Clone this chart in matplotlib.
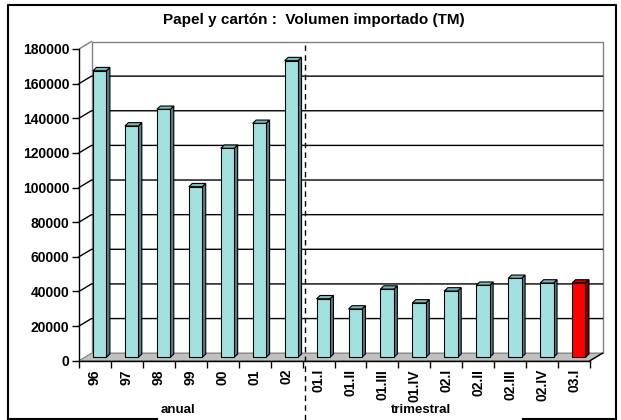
import numpy as np
import matplotlib.pyplot as plt
from matplotlib.patches import Polygon
from matplotlib.lines import Line2D
import matplotlib.transforms as mtransforms

plt.rcParams['font.family'] = ['Liberation Sans', 'DejaVu Sans']
plt.rcParams['font.weight'] = 'bold'

title = 'Papel y cartón :  Volumen importado (TM)'
labels = ['96', '97', '98', '99', '00', '01', '02',
          '01.I', '01.II', '01.III', '01.IV', '02.I', '02.II', '02.III', '02.IV', '03.I']
values = [165500, 133600, 143200, 98500, 120700, 135100, 171300,
          33800, 27900, 39400, 31400, 38300, 41600, 45600, 42900, 42900]
yticks = [0, 20000, 40000, 60000, 80000, 100000, 120000, 140000, 160000, 180000]
group_names = ['anual', 'trimestral']

W, H = 621, 420
fig = plt.figure(figsize=(W / 100, H / 100), dpi=100)

# front plane of the 3d box in pixels
x0p, x1p = 79, 590
y0p, y1p = 360.7, 49
ax = fig.add_axes([x0p / W, (H - y0p) / H, (x1p - x0p) / W, (y0p - y1p) / H])
n = len(labels)
ax.set_xlim(-0.5, n - 0.5)
ax.set_ylim(0, 180000)

px_x = n / (x1p - x0p)
px_y = 180000 / (y0p - y1p)

# depth of the box, bar placement
DX, DY = 12.5 * px_x, 7.5 * px_y
bar_off = 14 * px_x
bar_w = 13.4 * px_x
base = 3.4 * px_y
bdx, bdy = 3.5 * px_x, 3.3 * px_y

ymax = yticks[-1]
# back wall
ax.add_patch(Polygon([(-0.5 + DX, DY), (n - 0.5 + DX, DY), (n - 0.5 + DX, ymax + DY),
                      (-0.5 + DX, ymax + DY)], closed=True, facecolor='white',
                     edgecolor='#808080', lw=1, clip_on=False, zorder=1))
for v in yticks[1:-1]:
    ax.plot([-0.5, -0.5 + DX, n - 0.5 + DX], [v, v + DY, v + DY], color='black',
            lw=1, clip_on=False, zorder=2)
ax.plot([-0.5, -0.5 + DX], [ymax, ymax + DY], color='#808080', lw=1, clip_on=False, zorder=2)
# floor
ax.add_patch(Polygon([(-0.5, 0), (n - 0.5, 0), (n - 0.5 + DX, DY), (-0.5 + DX, DY)],
                     closed=True, facecolor='#c0c0c0', edgecolor='#808080', lw=0.8,
                     clip_on=False, zorder=2))
ax.plot([n - 0.5, n - 0.5 + DX], [0, DY], color='black', lw=1, clip_on=False, zorder=3)

# bars
x = np.arange(n)
front_c = ['#a3e1e1'] * (n - 1) + ['#ff0000']
side_c = ['#4f7f7f'] * (n - 1) + ['#800000']
top_c = ['#79b9b9'] * (n - 1) + ['#c00000']
left = x - 0.5 + bar_off
ax.bar(left, values, width=bar_w, bottom=base, align='edge', color=front_c,
       edgecolor='black', lw=0.8, zorder=5, clip_on=False)
for i, v in enumerate(values):
    xl, xr = left[i], left[i] + bar_w
    t = base + v
    ax.add_patch(Polygon([(xr, base), (xr + bdx, base + bdy), (xr + bdx, t + bdy), (xr, t)],
                         closed=True, facecolor=side_c[i], edgecolor='black', lw=0.8,
                         zorder=4, clip_on=False))
    ax.add_patch(Polygon([(xl, t), (xr, t), (xr + bdx, t + bdy), (xl + bdx, t + bdy)],
                         closed=True, facecolor=top_c[i], edgecolor='black', lw=0.8,
                         zorder=4, clip_on=False))

# axes
for s in ['top', 'right']:
    ax.spines[s].set_visible(False)
for s in ['left', 'bottom']:
    ax.spines[s].set_color('black')
    ax.spines[s].set_linewidth(1)
ax.set_yticks(yticks)
ax.set_yticklabels([str(v) for v in yticks], fontsize=10, fontweight='bold')
ax.tick_params(axis='y', direction='out', length=5, width=1, pad=2)
ax.set_xticks(np.arange(n + 1) - 0.5)
ax.set_xticklabels([])
ax.set_xticks(x, minor=True)
ax.set_xticklabels(labels, minor=True, rotation=90, fontsize=10, fontweight='bold')
ax.tick_params(axis='x', which='major', direction='out', length=5, width=1)
ax.tick_params(axis='x', which='minor', length=0, pad=6)

# separator between annual and quarterly
sep_x = 6.5 + 2 * px_x
trans = mtransforms.blended_transform_factory(ax.transData, fig.transFigure)
fig.add_artist(Line2D([sep_x, sep_x], [0, (H - 42) / H], transform=trans, color='black',
                      lw=1, ls=(0, (4, 3)), zorder=6))

# title and group labels
fig.text(314 / W, 1 - 20 / H, title, ha='center', va='center', fontsize=11,
         fontweight='bold')
fig.text(178 / W, 1 - 410 / H, group_names[0], ha='center', va='center', fontsize=9.5,
         fontweight='bold')
fig.text(421 / W, 1 - 410 / H, group_names[1], ha='center', va='center', fontsize=9.5,
         fontweight='bold')

# chart frame
frame = dict(color='black', lw=1.5)
fig.add_artist(Line2D([8 / W, 8 / W, 616 / W, 616 / W], [1 - 419 / H, 1 - 5 / H, 1 - 5 / H, 1 - 419 / H], **frame))
fig.add_artist(Line2D([8 / W, 157 / W], [1 - 419 / H, 1 - 419 / H], **frame))
fig.add_artist(Line2D([523 / W, 616 / W], [1 - 419 / H, 1 - 419 / H], **frame))

fig.savefig('out.png', dpi=100)
